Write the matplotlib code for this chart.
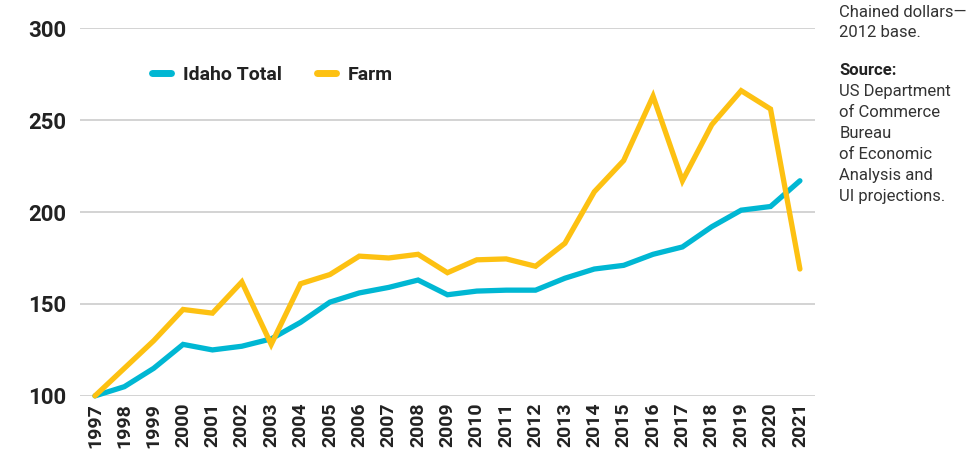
import matplotlib
matplotlib.use("Agg")
import matplotlib.pyplot as plt
from matplotlib.lines import Line2D

plt.rcParams['font.family'] = ['Roboto', 'DejaVu Sans']

years = list(range(1997, 2022))
idaho_total = [100, 105, 115, 128, 125, 127, 131, 140, 151, 156, 159, 163, 155, 157,
               157.5, 157.5, 164, 169, 171, 177, 181, 192, 201, 203, 217]
farm = [100, 115, 130, 147, 145, 162, 128, 161, 166, 176, 175, 177, 167, 174,
        174.5, 170.5, 183, 211, 228, 263, 217, 247.5, 266, 256, 169]
yticks = [100, 150, 200, 250, 300]

blue = '#00B7D3'
yellow = '#FDC112'

fig = plt.figure(figsize=(9.67, 4.54), dpi=100)
ax = fig.add_axes([0.0827, 0.128, 0.76, 0.81])

ax.plot(years, idaho_total, color=blue, lw=3.8, solid_capstyle='round',
        solid_joinstyle='miter', clip_on=False, zorder=3)
ax.plot(years, farm, color=yellow, lw=3.8, solid_capstyle='round',
        solid_joinstyle='miter', clip_on=False, zorder=4)

ax.set_xlim(1996.49, 2021.51)
ax.set_ylim(100, 300)
ax.set_yticks(yticks)
ax.set_xticks(years)
ax.set_xticklabels([str(y) for y in years], rotation=90, fontsize=14,
                   fontweight='bold', color='#222222', va='top')
ax.set_yticklabels([str(v) for v in yticks], fontsize=16, fontweight='bold',
                   color='#222222')
ax.tick_params(axis='both', length=0)
ax.tick_params(axis='y', pad=10)
ax.tick_params(axis='x', pad=5)
ax.grid(axis='y', color='#D3D3D3', lw=1.4)
ax.set_axisbelow(True)
for s in ax.spines.values():
    s.set_visible(False)

handles = [Line2D([], [], color=blue, lw=5, solid_capstyle='round'),
           Line2D([], [], color=yellow, lw=5, solid_capstyle='round')]
leg = ax.legend(handles, ['Idaho Total', 'Farm'], ncol=2, frameon=False,
                loc='upper left', bbox_to_anchor=(0.074, 0.945),
                handlelength=1.0, handletextpad=0.6, columnspacing=1.8,
                prop={'weight': 'bold', 'size': 14})
for t in leg.get_texts():
    t.set_color('#222222')

fig.text(0.868, 0.988, 'Chained dollars—\n2012 base.', fontsize=12,
         color='#333333', va='top', ha='left', linespacing=1.35)
fig.text(0.868, 0.862, 'Source:', fontsize=12, fontweight='bold',
         color='#222222', va='top', ha='left')
fig.text(0.868, 0.815, 'US Department\nof Commerce\nBureau\nof Economic\nAnalysis and\nUI projections.',
         fontsize=12, color='#333333', va='top', ha='left', linespacing=1.5)

fig.savefig('out.png', dpi=100)
